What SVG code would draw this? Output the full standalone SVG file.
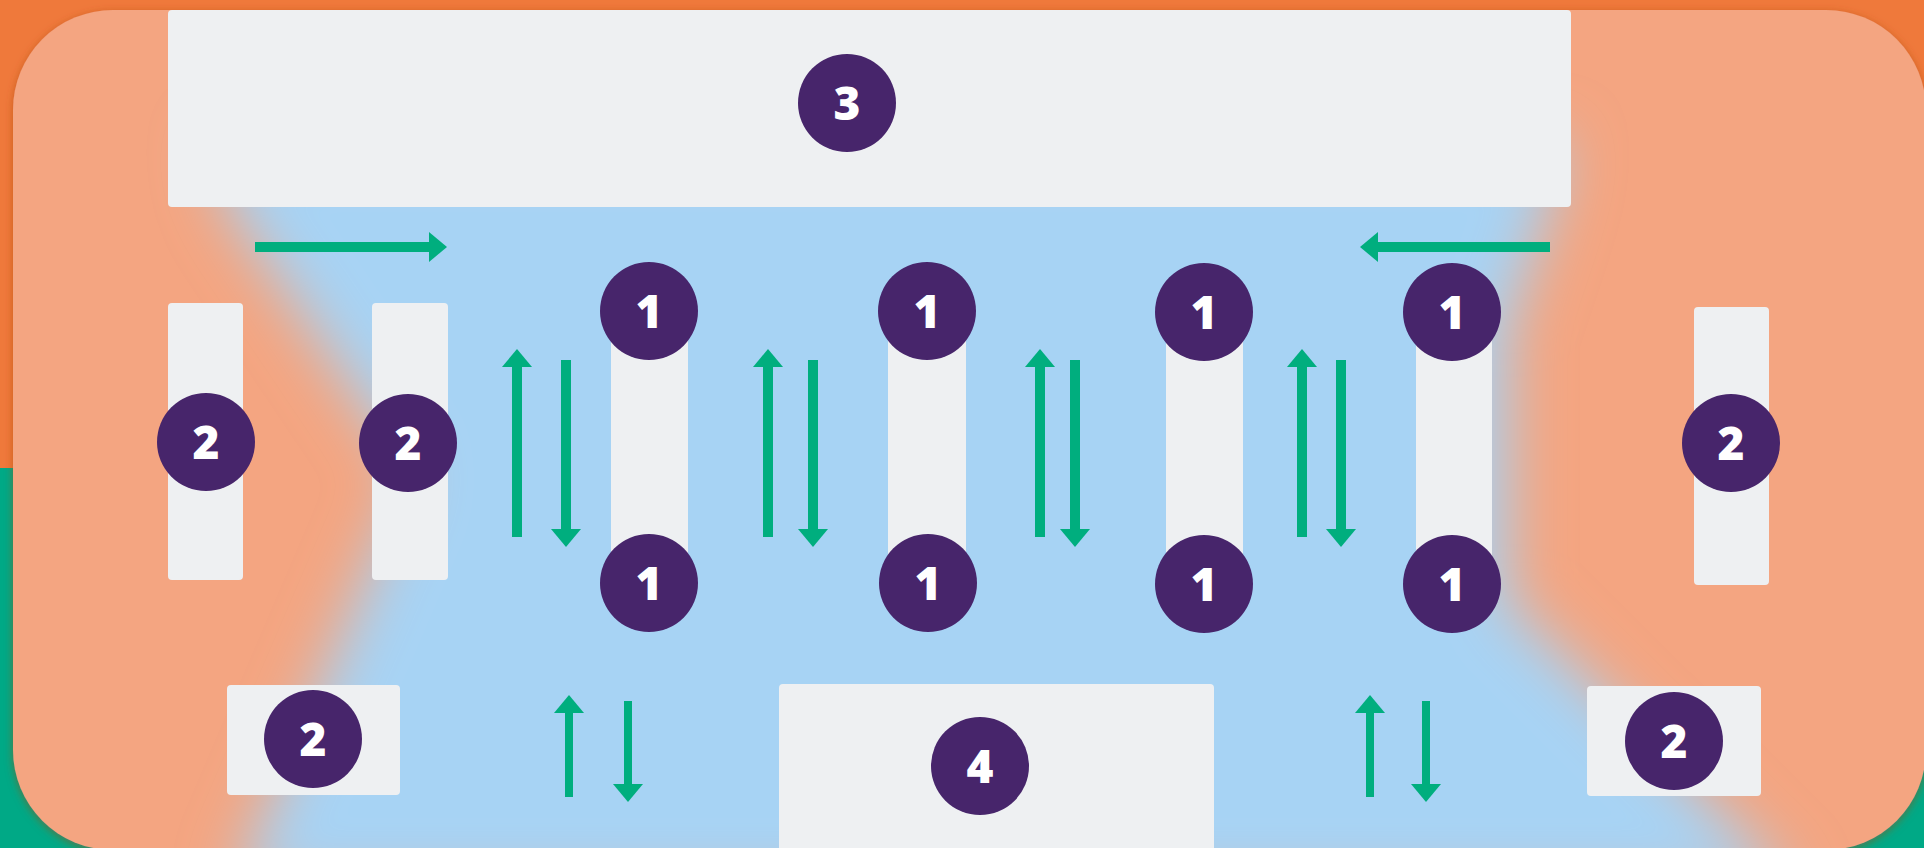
<svg xmlns="http://www.w3.org/2000/svg" width="1924" height="848" viewBox="0 0 1924 848">
  <style>
    .box { fill: #EEF0F2; }
    .badge { fill: #47256B; }
    .num { fill: #FFFFFF; font-family: "Open Sans", "Liberation Sans", sans-serif; font-weight: 800; font-size: 46px; text-anchor: middle; }
    .arr { stroke: #00AE7E; stroke-width: 10; fill: none; marker-end: url(#head); }
    .arr-s { stroke: #00AE7E; stroke-width: 8; fill: none; marker-end: url(#head); }
  </style>
  <defs>
    <marker id="head" viewBox="0 0 18 30" markerWidth="18" markerHeight="30" refX="1" refY="15" orient="auto" markerUnits="userSpaceOnUse">
      <path d="M0,0 L18,15 L0,30 Z" fill="#00AE7E" stroke="none"/>
    </marker>
    <filter id="shadow" x="-5%" y="-5%" width="110%" height="110%">
      <feDropShadow dx="0" dy="2" stdDeviation="4" flood-color="#A8440E" flood-opacity="0.55"/>
    </filter>
    <filter id="soft" filterUnits="userSpaceOnUse" x="0" y="0" width="1924" height="900">
      <feGaussianBlur stdDeviation="30"/>
    </filter>
    <clipPath id="inner">
      <rect x="13" y="10" width="1913" height="840" rx="100" ry="100"/>
    </clipPath>
  </defs>

  <!-- background -->
  <rect x="0" y="0" width="1924" height="468" fill="#EF793B"/>
  <rect x="0" y="468" width="1924" height="380" fill="#00A986"/>
  <rect x="13" y="10" width="1913" height="840" rx="100" ry="100" fill="#F4A581" filter="url(#shadow)"/>
  <g clip-path="url(#inner)">
    <path d="M210,140 L1565,140 L1550,205 L1508,330 L1508,600 L1800,890 L232,890 L410,475 L228,205 Z" fill="#A7D3F4" filter="url(#soft)"/>
  </g>

  <!-- nodes -->
  <g id="node-3">
    <rect class="box" x="168" y="10" width="1403" height="197" rx="4"/>
    <circle class="badge" cx="847" cy="103" r="49"/>
    <text class="num" x="847" y="120">3</text>
  </g>
  <g id="node-4">
    <rect class="box" x="779" y="684" width="435" height="190" rx="4"/>
    <circle class="badge" cx="980" cy="766" r="49"/>
    <text class="num" x="980" y="783">4</text>
  </g>
  <g id="node-2a">
    <rect class="box" x="168" y="303" width="75" height="277" rx="4"/>
    <circle class="badge" cx="206" cy="442" r="49"/>
    <text class="num" x="206" y="459">2</text>
  </g>
  <g id="node-2b">
    <rect class="box" x="372" y="303" width="76" height="277" rx="4"/>
    <circle class="badge" cx="408" cy="443" r="49"/>
    <text class="num" x="408" y="460">2</text>
  </g>
  <g id="node-2c">
    <rect class="box" x="1694" y="307" width="75" height="278" rx="4"/>
    <circle class="badge" cx="1731" cy="443" r="49"/>
    <text class="num" x="1731" y="460">2</text>
  </g>
  <g id="node-2d">
    <rect class="box" x="227" y="685" width="173" height="110" rx="4"/>
    <circle class="badge" cx="313" cy="739" r="49"/>
    <text class="num" x="313" y="756">2</text>
  </g>
  <g id="node-2e">
    <rect class="box" x="1587" y="686" width="174" height="110" rx="4"/>
    <circle class="badge" cx="1674" cy="741" r="49"/>
    <text class="num" x="1674" y="758">2</text>
  </g>
  <g id="node-1a">
    <rect class="box" x="611" y="311" width="77" height="272"/>
    <circle class="badge" cx="649" cy="311" r="49"/>
    <text class="num" x="649" y="328">1</text>
    <circle class="badge" cx="649" cy="583" r="49"/>
    <text class="num" x="649" y="600">1</text>
  </g>
  <g id="node-1b">
    <rect class="box" x="888" y="311" width="78" height="272"/>
    <circle class="badge" cx="927" cy="311" r="49"/>
    <text class="num" x="927" y="328">1</text>
    <circle class="badge" cx="928" cy="583" r="49"/>
    <text class="num" x="928" y="600">1</text>
  </g>
  <g id="node-1c">
    <rect class="box" x="1166" y="311" width="77" height="272"/>
    <circle class="badge" cx="1204" cy="312" r="49"/>
    <text class="num" x="1204" y="329">1</text>
    <circle class="badge" cx="1204" cy="584" r="49"/>
    <text class="num" x="1204" y="601">1</text>
  </g>
  <g id="node-1d">
    <rect class="box" x="1416" y="311" width="76" height="272"/>
    <circle class="badge" cx="1452" cy="312" r="49"/>
    <text class="num" x="1452" y="329">1</text>
    <circle class="badge" cx="1452" cy="584" r="49"/>
    <text class="num" x="1452" y="601">1</text>
  </g>

  <!-- connectors -->
  <g id="connectors">
    <path class="arr" d="M255,247 L430,247"/>
    <path class="arr" d="M1550,247 L1377,247"/>
    <path class="arr" d="M517,537 L517,366"/>
    <path class="arr" d="M566,360 L566,530"/>
    <path class="arr" d="M768,537 L768,366"/>
    <path class="arr" d="M813,360 L813,530"/>
    <path class="arr" d="M1040,537 L1040,366"/>
    <path class="arr" d="M1075,360 L1075,530"/>
    <path class="arr" d="M1302,537 L1302,366"/>
    <path class="arr" d="M1341,360 L1341,530"/>
    <path class="arr-s" d="M569,797 L569,712"/>
    <path class="arr-s" d="M628,701 L628,785"/>
    <path class="arr-s" d="M1370,797 L1370,712"/>
    <path class="arr-s" d="M1426,701 L1426,785"/>
  </g>
</svg>
